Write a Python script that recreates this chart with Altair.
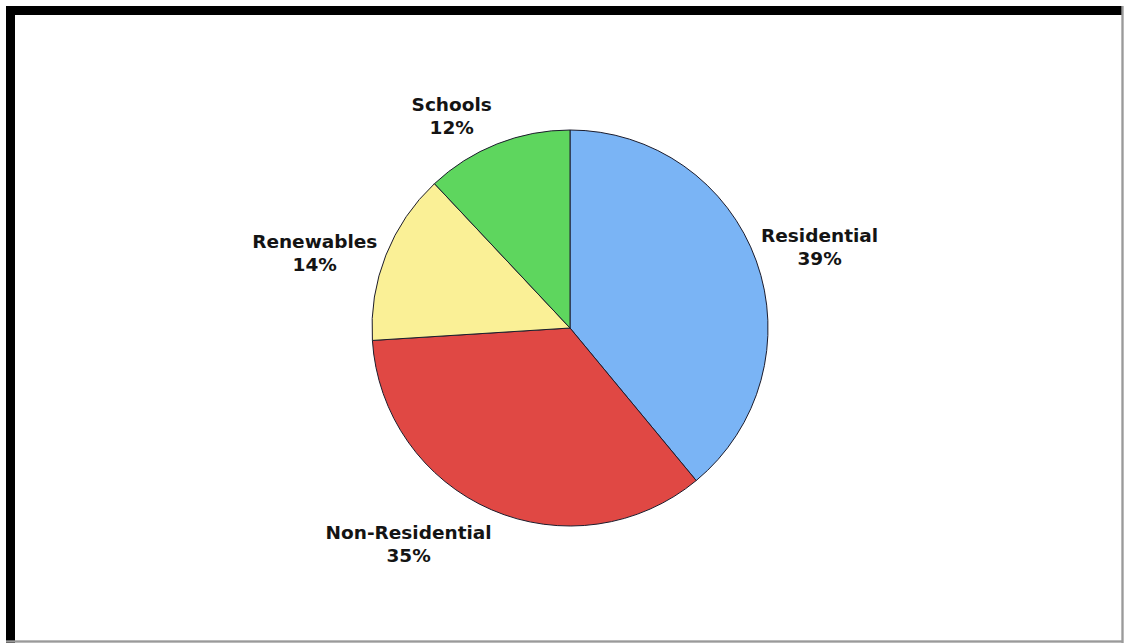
import altair as alt
import pandas as pd

# ---- data ----
categories = ["Residential", "Non-Residential", "Renewables", "Schools"]
shares = [39, 35, 14, 12]
colors = ["#7ab4f5", "#e04844", "#faf096", "#5ed65e"]

df = pd.DataFrame({
    "idx": list(range(len(categories))),
    "category": categories,
    "share": shares,
    "label": [f"{c}\n{s}%" for c, s in zip(categories, shares)],
})

theta_scale = alt.Scale(domain=[0, 100])
color_scale = alt.Scale(domain=categories, range=colors)

base = alt.Chart(df)

pie = base.mark_arc(outerRadius=198, stroke="#1c1c2c", strokeWidth=1).encode(
    theta=alt.Theta("share:Q", stack=True, scale=theta_scale),
    color=alt.Color("category:N", scale=color_scale, legend=None),
    order=alt.Order("idx:Q"),
)

# label nudges (style: emulate corner anchoring of the original labels)
nudges = {
    "Residential": (52, -21),
    "Non-Residential": (-78, 12),
    "Renewables": (-60, -9),
    "Schools": (-41, -28),
}

label_base = base.transform_window(
    cum="sum(share)", sort=[alt.SortField("idx")], frame=[None, 0]
).transform_calculate(mid="datum.cum - datum.share / 2")

labels = []
for cat in categories:
    dx, dy = nudges[cat]
    labels.append(
        label_base.transform_filter(alt.datum.category == cat)
        .mark_text(
            radius=210, dx=dx, dy=dy, align="center", baseline="middle",
            lineBreak="\n", lineHeight=23, font="DejaVu Sans",
            fontWeight="bold", fontSize=18.5, color="#141414",
        )
        .encode(
            theta=alt.Theta("mid:Q", stack=None, scale=theta_scale),
            text="label:N",
        )
    )

# decorative frame of the original picture
frame_top = base.mark_rule(color="#000000", strokeWidth=9).encode(
    x=alt.value(-9), x2=alt.value(1108), y=alt.value(-2.5)
)
frame_left = base.mark_rule(color="#000000", strokeWidth=9).encode(
    x=alt.value(-4.5), y=alt.value(-7), y2=alt.value(630)
)
frame_right = base.mark_rule(color="#9a9a9a", strokeWidth=1.5).encode(
    x=alt.value(1107.5), y=alt.value(-7), y2=alt.value(630)
)
frame_bottom = base.mark_rule(color="#9a9a9a", strokeWidth=1.5).encode(
    x=alt.value(-9), x2=alt.value(1108), y=alt.value(628.5)
)

chart = alt.layer(
    pie, *labels, frame_top, frame_left, frame_right, frame_bottom
).properties(
    width=1110,
    height=630,
    padding={"left": 15, "top": 13, "right": 0, "bottom": 0},
    autosize=alt.AutoSizeParams(type="none"),
    background="#ffffff",
).configure_view(stroke=None)

chart.save("out.html", embed_options={"renderer": "svg", "actions": False})
